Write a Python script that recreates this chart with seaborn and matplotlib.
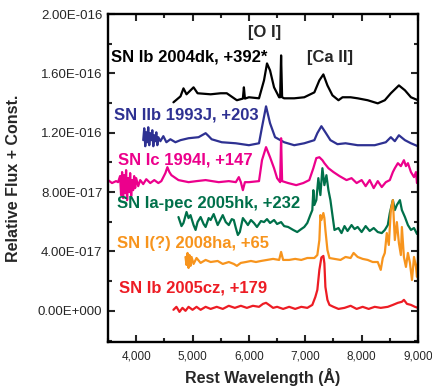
import numpy as np
import pandas as pd
import matplotlib
matplotlib.use("Agg")
import matplotlib.pyplot as plt
from matplotlib.ticker import MultipleLocator, FuncFormatter
import seaborn as sns

# Spectra: wavelength in Angstrom, flux in units of 1e-17 (with offsets)
SCALE = 1e-17

w_2004dk = [4661, 4786, 4839, 4893, 5018, 5089, 5321, 5500, 5607, 5786, 5893, 5911, 5929,
            6000, 6179, 6268, 6321, 6375, 6446, 6536, 6554, 6571, 6589, 6625, 6804, 6982,
            7161, 7250, 7321, 7393, 7482, 7589, 7661, 7804, 7929, 8107, 8286, 8411, 8518,
            8661, 8768, 8875, 9000]
f_2004dk = [14.05, 14.45, 14.99, 14.59, 15.06, 14.66, 14.59, 14.66, 14.66, 14.19, 14.30, 15.06, 14.30,
            14.39, 14.32, 15.53, 16.67, 16.20, 15.06, 14.39, 14.39, 17.21, 14.39, 14.32, 14.32, 14.39,
            14.72, 15.53, 15.93, 15.19, 14.52, 14.19, 14.39, 14.39, 14.32, 14.19, 13.98, 14.19, 14.66,
            15.19, 14.86, 14.39, 14.19]

w_1993J = [4125, 4143, 4161, 4179, 4196, 4214, 4232, 4250, 4268, 4286, 4304, 4321, 4339, 4357,
           4375, 4393, 4429, 4482, 4536, 4607, 4696, 4786, 4929, 5107, 5232, 5286, 5339, 5518,
           5768, 6000, 6179, 6232, 6304, 6375, 6464, 6625, 6804, 6982, 7161, 7214, 7286, 7357,
           7446, 7571, 7714, 7929, 8232, 8429, 8518, 8589, 8661, 8768, 8875, 9000]
f_1993J = [11.50, 12.30, 11.09, 12.03, 11.36, 12.37, 11.16, 11.97, 11.50, 12.17, 11.09, 11.83, 11.43, 12.03,
           11.16, 11.70, 11.43, 11.77, 11.36, 11.56, 11.36, 11.50, 11.63, 11.70, 11.97, 11.77, 11.56, 11.36,
           11.29, 11.16, 11.29, 12.37, 13.78, 12.64, 11.70, 11.36, 11.16, 11.29, 11.50, 11.97, 12.44, 12.03,
           11.50, 11.23, 11.29, 11.16, 11.16, 11.36, 11.70, 11.43, 11.83, 11.50, 11.29, 11.09]

w_1994I = [3500, 3571, 3643, 3679, 3714, 3732, 3750, 3768, 3786, 3804, 3821, 3839, 3857, 3875,
           3893, 3911, 3929, 3946, 3964, 3982, 4000, 4036, 4071, 4125, 4179, 4250, 4321, 4393,
           4446, 4518, 4554, 4589, 4625, 4750, 4929, 5071, 5232, 5464, 5643, 5768, 5821, 5857,
           5893, 5929, 6000, 6179, 6232, 6304, 6375, 6446, 6500, 6554, 6571, 6589, 6696, 6839,
           6964, 7071, 7143, 7196, 7250, 7304, 7339, 7411, 7500, 7607, 7732, 7821, 7911, 8000,
           8071, 8143, 8214, 8286, 8357, 8429, 8500, 8554, 8589, 8643, 8696, 8750, 8786, 8821,
           8875, 8929, 8964, 8982, 9000]
f_1994I = [8.81, 8.61, 8.74, 8.67, 9.08, 7.80, 9.35, 7.60, 9.14, 7.93, 9.48, 7.46, 8.94, 8.00,
           9.28, 7.73, 8.81, 8.13, 9.08, 8.27, 8.94, 8.40, 8.81, 8.54, 8.87, 8.61, 8.81, 8.61,
           8.74, 9.28, 9.68, 9.35, 9.14, 8.81, 8.67, 8.74, 8.81, 8.67, 8.74, 8.67, 9.01, 8.67,
           8.13, 8.67, 8.67, 8.74, 10.15, 11.03, 10.35, 9.61, 8.94, 8.67, 11.63, 8.74, 8.61, 8.47,
           8.61, 8.81, 9.61, 10.29, 10.35, 10.15, 9.95, 9.61, 9.35, 9.08, 8.81, 8.94, 8.61, 8.81,
           8.40, 8.81, 8.27, 8.74, 8.34, 8.67, 8.81, 9.35, 9.61, 9.95, 9.75, 10.15, 9.75, 9.95,
           9.35, 9.01, 9.35, 8.61, 9.00]

w_2005hk = [4750, 4804, 4839, 4893, 4929, 4964, 5018, 5054, 5089, 5143, 5196, 5232, 5286, 5321,
            5375, 5446, 5500, 5536, 5589, 5643, 5696, 5732, 5768, 5804, 5839, 5893, 5946, 5982,
            6036, 6089, 6143, 6214, 6268, 6321, 6375, 6446, 6500, 6571, 6625, 6696, 6786, 6857,
            6929, 6982, 7036, 7089, 7125, 7143, 7161, 7196, 7232, 7268, 7304, 7339, 7375, 7411,
            7446, 7482, 7518, 7589, 7643, 7696, 7750, 7821, 7875, 7929, 8000, 8071, 8143, 8214,
            8286, 8357, 8411, 8464, 8500, 8554, 8589, 8625, 8679, 8714, 8768, 8821, 8875, 8929,
            8982, 9000]
f_2005hk = [6.32, 5.71, 5.92, 6.66, 6.25, 6.45, 5.78, 5.45, 5.98, 6.32, 5.85, 5.65, 6.25, 6.12,
            6.52, 5.78, 6.18, 6.45, 5.98, 5.78, 6.18, 6.12, 5.58, 5.11, 5.31, 6.25, 5.98, 5.78,
            6.12, 5.92, 5.65, 6.05, 5.98, 6.18, 5.92, 6.12, 5.85, 5.98, 5.71, 5.65, 5.45, 5.31,
            5.51, 5.65, 5.92, 6.45, 6.79, 8.13, 7.13, 7.46, 8.94, 7.80, 9.61, 8.47, 9.14, 8.13,
            7.46, 6.45, 5.45, 5.58, 5.24, 5.71, 5.38, 5.78, 5.51, 5.65, 5.31, 5.71, 5.38, 5.58,
            5.31, 5.24, 5.45, 5.78, 6.59, 7.46, 6.79, 7.13, 7.46, 6.79, 6.32, 5.78, 5.45, 5.58,
            5.18, 5.31]

w_2008ha = [4875, 4893, 4911, 4929, 4946, 4964, 4982, 5018, 5071, 5143, 5232, 5321, 5446, 5536,
            5643, 5732, 5786, 5857, 5946, 6036, 6125, 6214, 6321, 6429, 6536, 6571, 6607, 6714,
            6821, 6929, 7036, 7161, 7214, 7250, 7268, 7286, 7321, 7339, 7357, 7393, 7429, 7518,
            7625, 7714, 7804, 7857, 7929, 8018, 8107, 8196, 8286, 8339, 8375, 8411, 8446, 8482,
            8518, 8554, 8589, 8625, 8661, 8696, 8714, 8750, 8786, 8821, 8857, 8893, 8929, 8964,
            8982, 9000]
f_2008ha = [3.63, 3.09, 3.90, 2.89, 3.76, 3.03, 3.63, 3.16, 3.56, 3.23, 3.43, 3.29, 3.36, 3.16,
            3.29, 3.16, 3.03, 3.23, 3.29, 3.36, 3.29, 3.36, 3.43, 3.50, 3.43, 3.97, 3.43, 3.43,
            3.50, 3.43, 3.56, 3.56, 3.76, 4.77, 6.45, 6.12, 6.59, 6.25, 5.45, 4.10, 3.56, 3.50,
            3.43, 3.63, 3.56, 3.90, 3.63, 3.50, 3.43, 3.29, 3.29, 2.76, 3.56, 3.90, 5.24, 4.44,
            6.79, 7.46, 4.77, 5.98, 4.57, 3.76, 5.65, 3.63, 2.96, 3.90, 3.23, 2.08, 3.63, 2.96,
            2.29, 3.43]

w_2005cz = [4661, 4714, 4768, 4821, 4875, 4929, 5000, 5071, 5143, 5232, 5321, 5429, 5536, 5643,
            5750, 5857, 5964, 6071, 6179, 6250, 6304, 6357, 6429, 6500, 6607, 6714, 6821, 6929,
            7036, 7125, 7179, 7214, 7250, 7286, 7321, 7339, 7357, 7393, 7429, 7500, 7589, 7696,
            7804, 7911, 8018, 8125, 8232, 8339, 8464, 8554, 8643, 8714, 8750, 8804, 8875, 8946,
            9000]
f_2005cz = [0.07, 0.27, -0.07, 0.20, 0.00, 0.27, 0.07, 0.27, 0.07, 0.27, 0.13, 0.27, 0.13, 0.34,
            0.20, 0.34, 0.20, 0.34, 0.27, 0.47, 0.54, 0.40, 0.20, 0.27, 0.13, 0.27, 0.13, 0.27,
            0.20, 0.40, 0.94, 1.41, 2.76, 3.60, 3.70, 3.20, 1.61, 0.74, 0.40, 0.27, 0.13, 0.20,
            0.34, 0.13, 0.27, 0.13, 0.27, 0.20, 0.27, 0.40, 0.54, 0.61, 0.74, 0.47, 0.40, 0.27,
            0.20]

names = ["2004dk", "1993J", "1994I", "2005hk", "2008ha", "2005cz"]
labels = ["SN Ib 2004dk, +392*", "SN IIb 1993J, +203", "SN Ic 1994I, +147",
          "SN Ia-pec 2005hk, +232", "SN I(?) 2008ha, +65", "SN Ib 2005cz, +179"]
colors = ["#000000", "#2E3192", "#EC008C", "#00704A", "#F7941D", "#ED1C24"]
# label anchor (wavelength, flux/1e-17)
label_x = [3554, 3607, 3679, 3661, 3661, 3696]
label_y = [17.08, 13.18, 10.15, 7.26, 4.57, 1.55]

waves = [w_2004dk, w_1993J, w_1994I, w_2005hk, w_2008ha, w_2005cz]
fluxes = [f_2004dk, f_1993J, f_1994I, f_2005hk, f_2008ha, f_2005cz]

frames = []
for n, w, f in zip(names, waves, fluxes):
    frames.append(pd.DataFrame({"sn": n, "wave": w, "flux": np.array(f) * SCALE}))
df = pd.concat(frames, ignore_index=True)

sns.set_style("ticks")
plt.rcParams['font.family'] = ['Liberation Sans', 'DejaVu Sans']

fig = plt.figure(figsize=(4.32, 3.89), dpi=100)
ax = fig.add_axes([0.25, 0.1208, 0.7176, 0.8432])

sns.lineplot(data=df, x="wave", y="flux", hue="sn", palette=dict(zip(names, colors)),
             estimator=None, sort=False, linewidth=1.6, legend=False, ax=ax)

for lab, x, y, c in zip(labels, label_x, label_y, colors):
    ax.text(x, y * SCALE, lab, color=c, fontsize=12, fontweight="bold",
            ha="left", va="center")

ax.text(6286, 18.76 * SCALE, "[O I]", fontsize=12, fontweight="bold", ha="center", va="center")
ax.text(7446, 17.08 * SCALE, "[Ca II]", fontsize=12, fontweight="bold", ha="center", va="center")

ax.set_xlim(3500, 9000)
ax.set_ylim(-2.1e-17, 2.0e-16)
ax.xaxis.set_major_locator(MultipleLocator(1000))
ax.xaxis.set_minor_locator(MultipleLocator(500))
ax.yaxis.set_major_locator(MultipleLocator(4e-17))
ax.yaxis.set_minor_locator(MultipleLocator(2e-17))


def sci_fmt(v, pos):
    if abs(v) < 1e-30:
        return "0.00E+000"
    e = int(np.floor(np.log10(abs(v))))
    m = v / 10 ** e
    sign = "+" if e >= 0 else "-"
    return f"{m:.2f}E{sign}{abs(e):03d}"


ax.yaxis.set_major_formatter(FuncFormatter(sci_fmt))
ax.xaxis.set_major_formatter(FuncFormatter(lambda v, p: f"{int(v):,}"))

ax.tick_params(which="both", direction="in", top=True, right=True, width=1.5)
ax.tick_params(which="major", length=5)
ax.tick_params(which="minor", length=3)
ax.tick_params(axis="y", labelsize=9.5, pad=4)
ax.tick_params(axis="x", labelsize=8.5, pad=6)
for s in ax.spines.values():
    s.set_linewidth(1.7)
    s.set_color("black")

ax.set_xlabel("Rest Wavelength (Å)", fontsize=11.5, fontweight="bold", labelpad=4)
ax.set_ylabel("Relative Flux + Const.", fontsize=11.5, fontweight="bold", labelpad=12)

fig.savefig("out.png", dpi=100)
